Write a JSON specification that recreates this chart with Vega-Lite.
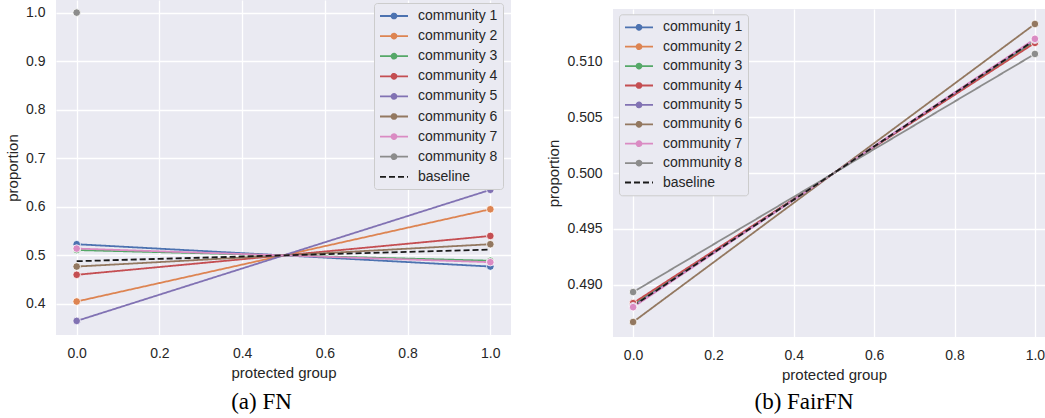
{
  "$schema": "https://vega.github.io/schema/vega-lite/v6.json",
  "background": "white",
  "padding": {"left": 5, "top": 0, "right": 0, "bottom": 0},
  "datasets": {
    "fn": [
      {"series": "community 1", "x": 0, "y": 0.523},
      {"series": "community 1", "x": 1, "y": 0.477},
      {"series": "community 2", "x": 0, "y": 0.405},
      {"series": "community 2", "x": 1, "y": 0.595},
      {"series": "community 3", "x": 0, "y": 0.511},
      {"series": "community 3", "x": 1, "y": 0.489},
      {"series": "community 4", "x": 0, "y": 0.46},
      {"series": "community 4", "x": 1, "y": 0.54},
      {"series": "community 5", "x": 0, "y": 0.365},
      {"series": "community 5", "x": 1, "y": 0.635},
      {"series": "community 6", "x": 0, "y": 0.477},
      {"series": "community 6", "x": 1, "y": 0.523},
      {"series": "community 7", "x": 0, "y": 0.514},
      {"series": "community 7", "x": 1, "y": 0.486},
      {"series": "community 8", "x": 0, "y": 1.0},
      {"series": "baseline", "x": 0, "y": 0.488},
      {"series": "baseline", "x": 1, "y": 0.512}
    ],
    "fairfn": [
      {"series": "community 1", "x": 0, "y": 0.48815},
      {"series": "community 1", "x": 1, "y": 0.51185},
      {"series": "community 2", "x": 0, "y": 0.48825},
      {"series": "community 2", "x": 1, "y": 0.51175},
      {"series": "community 3", "x": 0, "y": 0.48818},
      {"series": "community 3", "x": 1, "y": 0.51182},
      {"series": "community 4", "x": 0, "y": 0.48836},
      {"series": "community 4", "x": 1, "y": 0.51164},
      {"series": "community 5", "x": 0, "y": 0.48808},
      {"series": "community 5", "x": 1, "y": 0.51192},
      {"series": "community 6", "x": 0, "y": 0.48667},
      {"series": "community 6", "x": 1, "y": 0.51333},
      {"series": "community 7", "x": 0, "y": 0.488},
      {"series": "community 7", "x": 1, "y": 0.512},
      {"series": "community 8", "x": 0, "y": 0.48935},
      {"series": "community 8", "x": 1, "y": 0.51065},
      {"series": "baseline", "x": 0, "y": 0.4881},
      {"series": "baseline", "x": 1, "y": 0.5119}
    ],
    "empty": []
  },
  "config": {
    "view": {"stroke": null, "fill": "#eaeaf2"},
    "font": "Liberation Sans",
    "axis": {
      "labelFont": "Liberation Sans", "labelFontSize": 14, "labelColor": "#262626",
      "titleFont": "Liberation Sans", "titleFontSize": 15, "titleFontWeight": "normal", "titleColor": "#262626",
      "grid": true, "gridColor": "white", "gridWidth": 1.3, "domain": false, "ticks": false,
      "labelPadding": 11, "titlePadding": 5
    },
    "legend": {
      "labelFont": "Liberation Sans", "labelFontSize": 14, "labelColor": "#262626"
    },
    "title": {"font": "Liberation Serif", "fontSize": 23, "fontWeight": "normal", "color": "black"}
  },
  "hconcat": [
    {
      "width": 455, "height": 335,
      "data": {"name": "fn"},
      "title": {"text": "(a) FN", "orient": "bottom", "anchor": "middle", "dx": -22, "offset": 11},
      "layer": [
        {
          "mark": {"type": "line", "strokeWidth": 1.8},
          "encoding": {
            "x": {"field": "x", "type": "quantitative", "title": "protected group",
                  "scale": {"domain": [-0.05, 1.05], "nice": false, "zero": false},
                  "axis": {"values": [0, 0.2, 0.4, 0.6, 0.8, 1.0], "format": ".1f"}},
            "y": {"field": "y", "type": "quantitative", "title": "proportion",
                  "scale": {"domain": [0.336, 1.026], "nice": false, "zero": false},
                  "axis": {"values": [0.4, 0.5, 0.6, 0.7, 0.8, 0.9, 1.0], "format": ".1f"}},
            "color": {"field": "series", "type": "nominal",
              "scale": {"domain": ["community 1", "community 2", "community 3", "community 4", "community 5", "community 6", "community 7", "community 8", "baseline"],
                        "range": ["#4c72b0", "#dd8452", "#55a868", "#c44e52", "#8172b3", "#937860", "#da8bc3", "#8c8c8c", "#1a1a1a"]},
              "legend": {
                "orient": "none", "legendX": 318, "legendY": 3, "title": null,
                "fillColor": "#eaeaf2", "strokeColor": "#cccccc", "cornerRadius": 3, "padding": 5,
                "symbolSize": 196, "symbolStrokeWidth": 1.8, "labelOffset": 23, "rowPadding": 5.1,
                "encode": {"symbols": {"update": {"shape": {"signal": "datum.value === 'baseline' ? 'M-1,0L3,0' : 'M-1,0L3,0M0.65,0A0.35,0.35 0 1,0 1.35,0A0.35,0.35 0 1,0 0.65,0M0.85,0A0.15,0.15 0 1,0 1.15,0A0.15,0.15 0 1,0 0.85,0'"}}}}
              }},
            "strokeDash": {"field": "series", "type": "nominal",
              "scale": {"domain": ["community 1", "community 2", "community 3", "community 4", "community 5", "community 6", "community 7", "community 8", "baseline"],
                        "range": [[1, 0], [1, 0], [1, 0], [1, 0], [1, 0], [1, 0], [1, 0], [1, 0], [6, 3]]}}
          }
        },
        {
          "transform": [{"filter": "datum.series !== 'baseline'"}],
          "mark": {"type": "point", "filled": true, "size": 58, "stroke": "white", "strokeWidth": 0.8, "opacity": 1},
          "encoding": {
            "x": {"field": "x", "type": "quantitative"},
            "y": {"field": "y", "type": "quantitative"},
            "color": {"field": "series", "type": "nominal", "legend": null}
          }
        }
      ]
    },
    {
      "spacing": 8,
      "vconcat": [
        {
          "width": 1, "height": 1,
          "view": {"fill": null, "stroke": null},
          "data": {"name": "empty"},
          "mark": "point",
          "encoding": {}
        },
        {
          "width": 442, "height": 328,
          "data": {"name": "fairfn"},
          "title": {"text": "(b) FairFN", "orient": "bottom", "anchor": "middle", "dx": -30, "offset": 9},
          "layer": [
            {
              "mark": {"type": "line", "strokeWidth": 1.8},
              "encoding": {
                "x": {"field": "x", "type": "quantitative", "title": "protected group",
                      "scale": {"domain": [-0.05, 1.05], "nice": false, "zero": false},
                      "axis": {"values": [0, 0.2, 0.4, 0.6, 0.8, 1.0], "format": ".1f"}},
                "y": {"field": "y", "type": "quantitative", "title": "proportion",
                      "scale": {"domain": [0.48533, 0.51467], "nice": false, "zero": false},
                      "axis": {"values": [0.49, 0.495, 0.5, 0.505, 0.51], "format": ".3f"}},
                "color": {"field": "series", "type": "nominal",
                  "scale": {"domain": ["community 1", "community 2", "community 3", "community 4", "community 5", "community 6", "community 7", "community 8", "baseline"],
                            "range": ["#4c72b0", "#dd8452", "#55a868", "#c44e52", "#8172b3", "#937860", "#da8bc3", "#8c8c8c", "#1a1a1a"]},
                  "legend": {
                    "orient": "none", "legendX": 6, "legendY": 14.3, "title": null,
                    "fillColor": "#eaeaf2", "strokeColor": "#cccccc", "cornerRadius": 3, "padding": 5,
                    "symbolSize": 196, "symbolStrokeWidth": 1.8, "labelOffset": 23, "rowPadding": 4.4,
                    "encode": {"symbols": {"update": {"shape": {"signal": "datum.value === 'baseline' ? 'M-1,0L3,0' : 'M-1,0L3,0M0.65,0A0.35,0.35 0 1,0 1.35,0A0.35,0.35 0 1,0 0.65,0M0.85,0A0.15,0.15 0 1,0 1.15,0A0.15,0.15 0 1,0 0.85,0'"}}}}
                  }},
                "strokeDash": {"field": "series", "type": "nominal",
                  "scale": {"domain": ["community 1", "community 2", "community 3", "community 4", "community 5", "community 6", "community 7", "community 8", "baseline"],
                            "range": [[1, 0], [1, 0], [1, 0], [1, 0], [1, 0], [1, 0], [1, 0], [1, 0], [6, 3]]}}
              }
            },
            {
              "transform": [{"filter": "datum.series !== 'baseline'"}],
              "mark": {"type": "point", "filled": true, "size": 58, "stroke": "white", "strokeWidth": 0.8, "opacity": 1},
              "encoding": {
                "x": {"field": "x", "type": "quantitative"},
                "y": {"field": "y", "type": "quantitative"},
                "color": {"field": "series", "type": "nominal", "legend": null}
              }
            }
          ]
        }
      ]
    }
  ],
  "spacing": 35,
  "resolve": {"scale": {"color": "independent", "strokeDash": "independent", "x": "independent", "y": "independent"}, "legend": {"color": "independent", "strokeDash": "independent"}}
}
